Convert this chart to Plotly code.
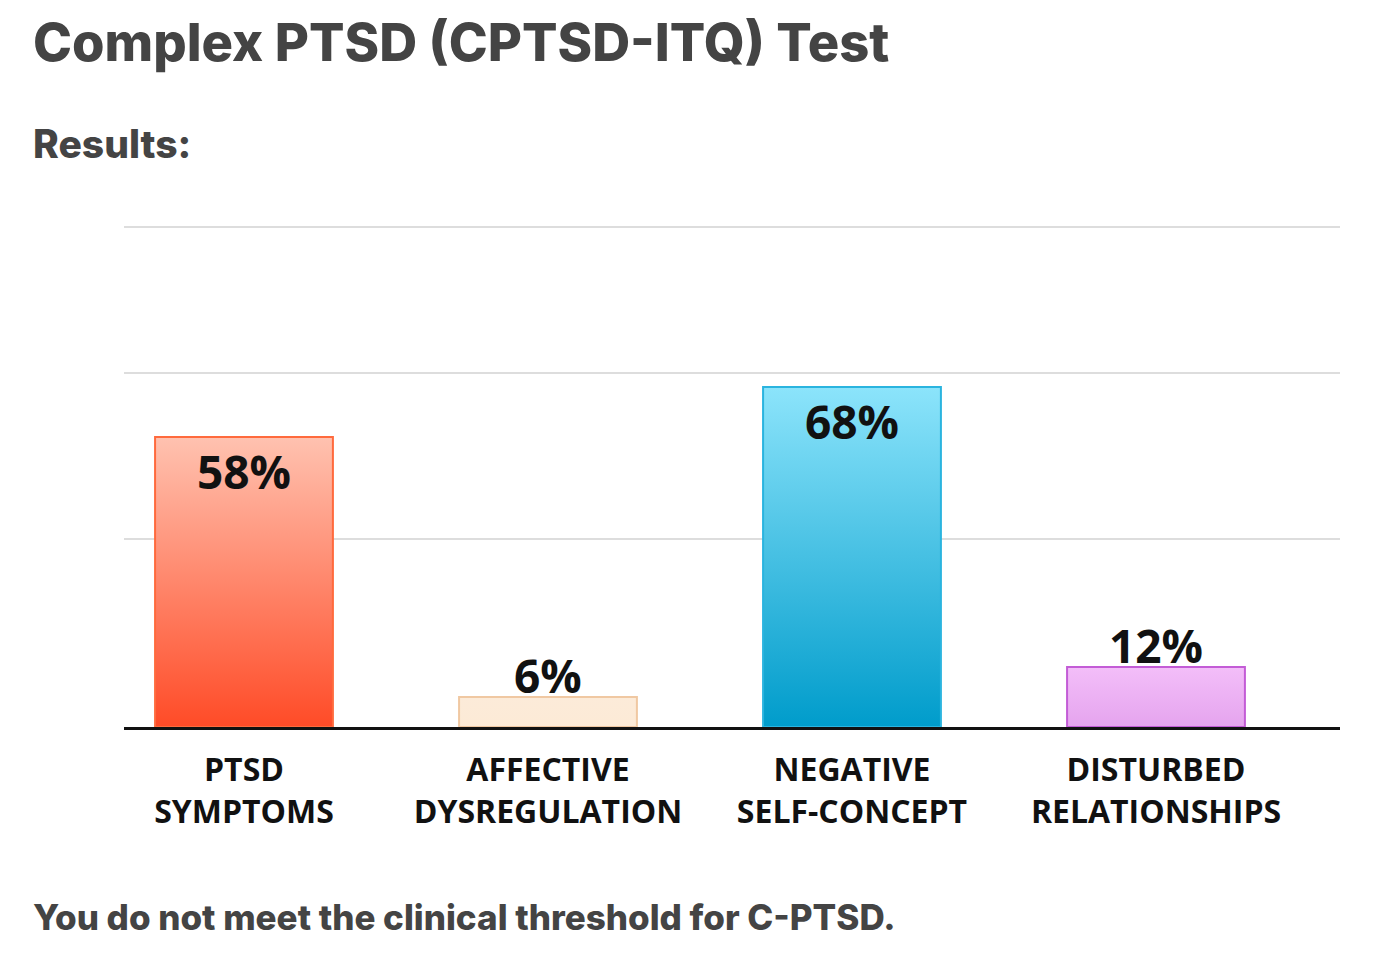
import plotly.graph_objects as go

# chart data
categories = ["PTSD<br>SYMPTOMS", "AFFECTIVE<br>DYSREGULATION",
              "NEGATIVE<br>SELF-CONCEPT", "DISTURBED<br>RELATIONSHIPS"]
scores = [58, 6, 68, 12]
label_inside = [True, False, True, False]
grid_levels = [37.7, 70.9, 100]

# colours: (bottom, top, outline)
bar_colors = [
    ("#FF4B27", "#FFC2B0", "#FF6A3D"),
    ("#FCEAD6", "#FCEBD9", "#F0C8A2"),
    ("#009CCB", "#8CE4FB", "#2AB4DF"),
    ("#E5A4EE", "#F3BEF9", "#C35CD6"),
]

bar_width = 0.585
OFF = 8  # page body margin
W, H = 1383, 945
L, T = 124 - OFF, 222 - OFF
plot_w, plot_h = 1216, 505
R = W - L - plot_w
B = H - T - plot_h


def px_x(px):
    return (px - OFF - L) / plot_w


def px_y(py):
    return (T + plot_h - (py - OFF)) / plot_h


fig = go.Figure()

# bars drawn as filled polygons so they can carry a vertical gradient
for i, (val, (c_bot, c_top, c_line)) in enumerate(zip(scores, bar_colors)):
    x0, x1 = i - bar_width / 2, i + bar_width / 2
    fig.add_trace(go.Scatter(
        x=[x0, x1, x1, x0, x0],
        y=[0, 0, val, val, 0],
        mode="lines",
        fill="toself",
        fillgradient=dict(type="vertical", colorscale=[[0, c_bot], [1, c_top]]),
        line=dict(color=c_line, width=2),
        hoverinfo="skip",
        showlegend=False,
    ))

# value labels
for i, (val, inside) in enumerate(zip(scores, label_inside)):
    fig.add_annotation(
        x=i, y=val, xref="x", yref="y",
        text=f"{val}%", showarrow=False,
        yanchor="middle", yshift=-34 if inside else 22,
        font=dict(family="Open Sans", size=46, color="#111111", weight="bold"),
    )

fig.update_xaxes(
    range=[-0.3947, 3.6053],
    tickvals=list(range(len(categories))),
    ticktext=categories,
    tickfont=dict(family="Open Sans", size=32, color="#111111", weight="bold"),
    ticklabelstandoff=13,
    showgrid=False,
    zeroline=False,
    showline=True,
    linecolor="#111111",
    linewidth=3,
    ticks="",
    fixedrange=True,
)
fig.update_yaxes(
    range=[0, 101],
    tickvals=grid_levels,
    showticklabels=False,
    showgrid=True,
    gridcolor="#DDDDDD",
    gridwidth=2,
    zeroline=False,
    showline=False,
    fixedrange=True,
)

text_font = "Inter"
fig.add_annotation(
    text="Complex PTSD (CPTSD-ITQ) Test",
    xref="paper", yref="paper", x=px_x(31), y=px_y(42),
    xanchor="left", yanchor="middle", showarrow=False,
    font=dict(family=text_font, size=52.5, color="#444444", weight=800),
)
fig.add_annotation(
    text="Results:",
    xref="paper", yref="paper", x=px_x(31), y=px_y(143),
    xanchor="left", yanchor="middle", showarrow=False,
    font=dict(family=text_font, size=39, color="#444444", weight=800),
)
fig.add_annotation(
    text="You do not meet the clinical threshold for C-PTSD.",
    xref="paper", yref="paper", x=px_x(31), y=px_y(917),
    xanchor="left", yanchor="middle", showarrow=False,
    font=dict(family=text_font, size=35, color="#444444", weight=800),
)

fig.update_layout(
    width=W, height=H,
    margin=dict(l=L, r=R, t=T, b=B),
    paper_bgcolor="white",
    plot_bgcolor="white",
    showlegend=False,
)

fig.write_html("out.html")
